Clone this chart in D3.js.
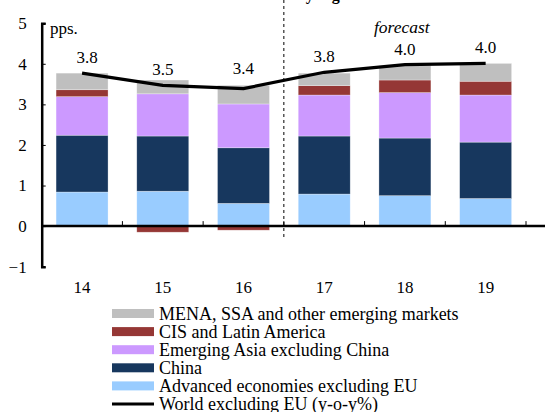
<!DOCTYPE html>
<html>
<head>
<meta charset="utf-8">
<script src="https://cdn.jsdelivr.net/npm/d3@7"></script>
<style>
  body { margin: 0; background: #fff; }
  svg text { font-family: "Liberation Serif", "Times New Roman", serif; fill: #000; }
</style>
</head>
<body>
<svg id="chart" width="545" height="412" font-family="Liberation Serif, serif"></svg>
<script>
// Data
const years = ["14", "15", "16", "17", "18", "19"];
const advanced = [0.84, 0.86, 0.56, 0.79, 0.75, 0.68];
const china = [1.40, 1.36, 1.37, 1.43, 1.42, 1.39];
const emAsia = [0.95, 1.04, 1.08, 1.01, 1.12, 1.16];
const cisLatam = [0.17, -0.15, -0.10, 0.23, 0.31, 0.34];
const mena = [0.41, 0.34, 0.46, 0.31, 0.35, 0.44];
const world = [3.77, 3.47, 3.39, 3.79, 3.98, 4.01];
const worldLabels = ["3.8", "3.5", "3.4", "3.8", "4.0", "4.0"];
const yTicks = [-1, 0, 1, 2, 3, 4, 5];

const series = [
  { key: "adv", name: "Advanced economies excluding EU", values: advanced, color: "#99ccff" },
  { key: "china", name: "China", values: china, color: "#17375e" },
  { key: "emAsia", name: "Emerging Asia excluding China", values: emAsia, color: "#cc99ff" },
  { key: "cis", name: "CIS and Latin America", values: cisLatam, color: "#953735" },
  { key: "mena", name: "MENA, SSA and other emerging markets", values: mena, color: "#bfbfbf" },
];

const svg = d3.select("#chart");

const x = d3.scaleBand().domain(years).range([41.7, 526]).paddingInner(0.356).paddingOuter(0.178);
const y = d3.scaleLinear().domain([-1, 5]).range([266.7, 23.2]);

// Title (mostly cut off at the top)
svg.append("text")
  .attr("x", 279).attr("y", 0)
  .attr("text-anchor", "middle")
  .style("font-size", "16px").style("font-weight", "bold")
  .text("Contributions by region");

// Stacked bars, positives and negatives stacked separately
const rows = years.map((yr, i) => {
  const o = { year: yr };
  series.forEach((s) => (o[s.key] = s.values[i]));
  return o;
});
const stack = d3.stack().keys(series.map((s) => s.key)).offset(d3.stackOffsetDiverging);
const stacked = stack(rows);

svg.append("g")
  .selectAll("g")
  .data(stacked)
  .join("g")
  .attr("fill", (d, i) => series[i].color)
  .selectAll("rect")
  .data((d) => d)
  .join("rect")
  .attr("x", (d) => x(d.data.year))
  .attr("width", x.bandwidth())
  .attr("y", (d) => y(Math.max(d[0], d[1])))
  .attr("height", (d) => Math.abs(y(d[0]) - y(d[1])))
  .attr("stroke", "#ffffff")
  .attr("stroke-opacity", 0.5)
  .attr("stroke-width", 0.6);

// Forecast divider
const divX = (x("16") + x.bandwidth() + x("17")) / 2;
svg.append("line")
  .attr("x1", divX).attr("x2", divX)
  .attr("y1", 0).attr("y2", 237)
  .attr("stroke", "#000").attr("stroke-width", 1)
  .attr("stroke-dasharray", "3,3");

// Y axis
svg.append("g")
  .attr("transform", "translate(41.7,0)")
  .call(d3.axisLeft(y).tickValues(yTicks).tickFormat(d3.format("d"))
    .tickSizeInner(-4).tickSizeOuter(-4).tickPadding(15))
  .call((g) => g.attr("font-family", null))
  .call((g) => g.select(".domain").attr("stroke-width", 2.5))
  .call((g) => g.selectAll(".tick line").attr("stroke-width", 1))
  .call((g) => g.selectAll("text").style("font-size", "17px").attr("fill", "#000"));

// X axis on zero line, ticks at category boundaries
const step = x.step();
const bounds = years.map((yr) => x(yr) + x.bandwidth() + (step - x.bandwidth()) / 2);
const zeroAxis = svg.append("g");
zeroAxis.append("line")
  .attr("x1", 41.7).attr("x2", 545)
  .attr("y1", y(0)).attr("y2", y(0))
  .attr("stroke", "#000").attr("stroke-width", 2.5);
zeroAxis.selectAll(".xt")
  .data(bounds)
  .join("line")
  .attr("x1", (d) => d).attr("x2", (d) => d)
  .attr("y1", y(0)).attr("y2", y(0) - 5)
  .attr("stroke", "#000").attr("stroke-width", 1);

// Category labels below plot
svg.append("g")
  .attr("transform", "translate(0,280.5)")
  .call(d3.axisBottom(x).tickSize(0).tickPadding(0))
  .call((g) => g.attr("font-family", null))
  .call((g) => g.select(".domain").remove())
  .call((g) => g.selectAll("text").style("font-size", "17px").attr("fill", "#000").attr("dy", "0.71em"));

// World line
const cx = (yr) => x(yr) + x.bandwidth() / 2;
svg.append("path")
  .datum(world)
  .attr("fill", "none")
  .attr("stroke", "#000")
  .attr("stroke-width", 3.2)
  .attr("d", d3.line().x((d, i) => cx(years[i])).y((d) => y(d)));

svg.append("g")
  .selectAll("text")
  .data(world)
  .join("text")
  .attr("x", (d, i) => cx(years[i]) + (i === 0 ? 5 : 0))
  .attr("y", (d, i) => y(d) - (i === 2 ? 15 : 10))
  .attr("text-anchor", "middle")
  .style("font-size", "17px")
  .text((d, i) => worldLabels[i]);

// Annotations
svg.append("text").attr("x", 50).attr("y", 34).style("font-size", "17px").text("pps.");
svg.append("text").attr("x", 374).attr("y", 33).style("font-size", "17.5px")
  .style("font-style", "italic").text("forecast");

// Legend
const legendItems = series.slice().reverse().map((s) => ({ name: s.name, color: s.color, type: "bar" }));
legendItems.push({ name: "World excluding EU (y-o-y%)", color: "#000", type: "line" });

const legend = svg.append("g").attr("transform", "translate(112,313.5)");
const item = legend.selectAll("g")
  .data(legendItems)
  .join("g")
  .attr("transform", (d, i) => `translate(0,${i * 18.1})`);

item.filter((d) => d.type === "bar")
  .append("rect")
  .attr("x", 0).attr("y", -4.5)
  .attr("width", 42).attr("height", 9)
  .attr("fill", (d) => d.color);

item.filter((d) => d.type === "line")
  .append("line")
  .attr("x1", 0).attr("x2", 42)
  .attr("y1", 0).attr("y2", 0)
  .attr("stroke", "#000").attr("stroke-width", 3);

item.append("text")
  .attr("x", 47).attr("y", 0).attr("dy", "0.34em")
  .style("font-size", "18px")
  .text((d) => d.name);
</script>
</body>
</html>
